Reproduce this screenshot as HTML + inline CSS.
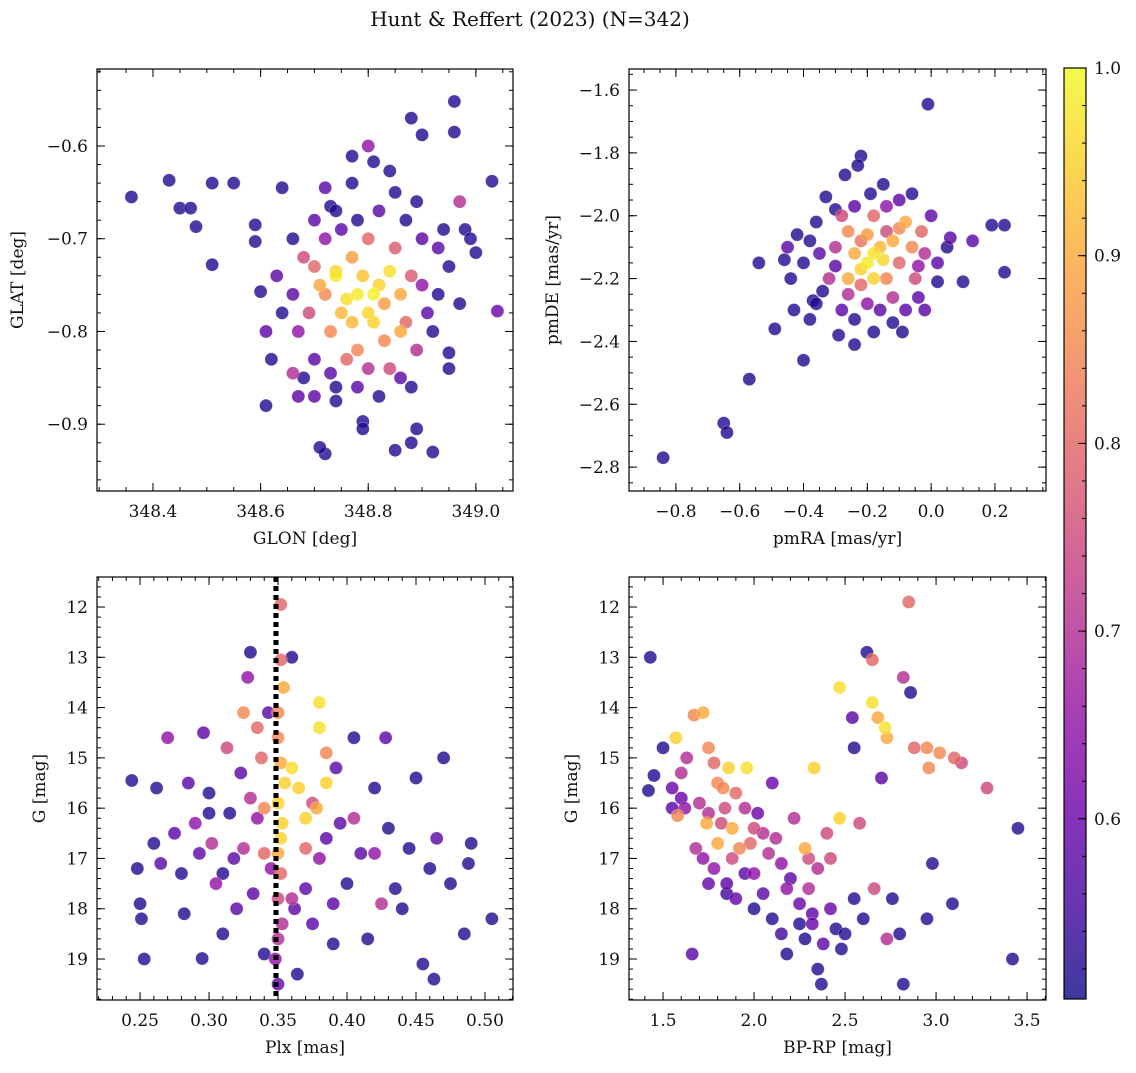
<!DOCTYPE html>
<html><head><meta charset="utf-8"><style>
body{margin:0;background:#fff;}
svg text{font-family:"DejaVu Serif","Liberation Serif",serif;fill:#111;}
</style></head><body>
<svg id="fig" width="1136" height="1068" xmlns="http://www.w3.org/2000/svg">
<defs><linearGradient id="cbg" x1="0" y1="1" x2="0" y2="0">
<stop offset="0" stop-color="#0d0887"/><stop offset="0.1" stop-color="#41049d"/><stop offset="0.2" stop-color="#6a00a8"/><stop offset="0.3" stop-color="#8f0da4"/><stop offset="0.4" stop-color="#b12a90"/><stop offset="0.5" stop-color="#cc4778"/><stop offset="0.6" stop-color="#e16462"/><stop offset="0.7" stop-color="#f2844b"/><stop offset="0.8" stop-color="#fca636"/><stop offset="0.9" stop-color="#fcce25"/><stop offset="1" stop-color="#f0f921"/></linearGradient></defs>
<text x="530" y="26" font-size="20" text-anchor="middle">Hunt &amp; Reffert (2023) (N=342)</text>
</svg>
<script>
const glonVals=[348.36,348.43,348.45,348.47,348.48,348.51,348.55,348.51,348.61,348.62,348.61,348.60,348.59,348.59,348.64,348.88,348.90,348.96,348.96,349.03,349.04,348.92,348.89,348.88,348.85,348.72,348.71,348.79,348.79,348.74,348.73,348.67,348.66,348.86,348.95,348.95,348.98,348.99,348.97,349.00,348.94,348.93,348.80,348.81,348.84,348.77,348.77,348.72,348.73,
348.78,348.76,348.80,348.82,348.79,348.74,348.84,348.81,348.75,348.77,348.86,348.72,348.70,348.73,348.83,348.87,348.88,348.80,348.85,348.69,348.68,348.76,348.84,348.89,348.90,348.91,348.66,348.67,348.70,348.72,348.75,348.78,348.82,348.87,348.90,348.93,348.92,348.88,348.82,348.78,348.74,348.70,348.68,348.64,348.63,348.66,348.70,348.74,348.85,348.89,348.95,348.97,348.78,348.80,348.86,348.74,348.81,348.77,348.83,348.71];
const glatVals=[-0.655,-0.637,-0.667,-0.667,-0.687,-0.640,-0.640,-0.728,-0.880,-0.830,-0.800,-0.757,-0.703,-0.685,-0.645,-0.570,-0.588,-0.552,-0.585,-0.638,-0.778,-0.930,-0.905,-0.920,-0.928,-0.932,-0.925,-0.897,-0.905,-0.875,-0.845,-0.870,-0.845,-0.850,-0.823,-0.840,-0.690,-0.700,-0.660,-0.715,-0.690,-0.710,-0.600,-0.617,-0.627,-0.611,-0.640,-0.645,-0.665,
-0.76,-0.765,-0.78,-0.75,-0.74,-0.735,-0.735,-0.79,-0.78,-0.72,-0.76,-0.76,-0.73,-0.80,-0.81,-0.79,-0.74,-0.70,-0.71,-0.78,-0.72,-0.83,-0.84,-0.82,-0.75,-0.78,-0.76,-0.80,-0.83,-0.70,-0.69,-0.68,-0.67,-0.68,-0.70,-0.76,-0.80,-0.86,-0.87,-0.86,-0.86,-0.87,-0.85,-0.78,-0.74,-0.70,-0.68,-0.67,-0.65,-0.66,-0.73,-0.77,-0.82,-0.84,-0.80,-0.74,-0.76,-0.79,-0.77,-0.75];
const p1=[.52,.52,.52,.52,.52,.52,.52,.52,.52,.52,.58,.52,.52,.52,.52,.52,.52,.52,.52,.52,.6,.52,.52,.52,.52,.52,.52,.52,.52,.52,.58,.58,.7,.58,.52,.52,.52,.52,.7,.52,.52,.58,.65,.52,.52,.52,.52,.58,.52,
.98,.97,.96,.95,.93,.95,.97,.95,.92,.88,.9,.85,.8,.85,.85,.8,.78,.8,.78,.75,.75,.8,.75,.7,.65,.58,.58,.65,.58,.65,.58,.52,.58,.52,.58,.52,.52,.52,.52,.58,.52,.58,.52,.52,.58,.52,.58,.52,.52,.52,.52,.52,.85,.7,.9,.98,.99,.92,.88,.9];
const pmraVals=[-0.84,-0.65,-0.64,-0.57,-0.40,-0.49,-0.01,-0.22,-0.23,-0.27,0.23,0.23,0.19,0.13,0.10,-0.54,-0.46,-0.44,-0.43,-0.38,-0.37,-0.42,-0.36,-0.33,-0.29,-0.24,-0.18,-0.09,-0.02,0.02,0.06,-0.06,-0.10,-0.15,-0.19,
-0.20,-0.18,-0.15,-0.22,-0.16,-0.24,-0.12,-0.20,-0.10,-0.26,-0.06,-0.14,-0.08,-0.18,-0.28,-0.03,-0.30,-0.32,-0.26,-0.20,-0.12,-0.05,-0.02,-0.28,-0.35,-0.38,-0.34,-0.30,-0.22,-0.10,-0.16,-0.08,0.00,0.02,-0.04,-0.24,-0.14,-0.30,-0.40,-0.45,-0.36,-0.24,-0.12,-0.04,0.05,-0.26,-0.18,-0.14,-0.22];
const pmdeVals=[-2.77,-2.66,-2.69,-2.52,-2.46,-2.36,-1.645,-1.81,-1.84,-1.87,-2.18,-2.03,-2.03,-2.08,-2.21,-2.15,-2.14,-2.20,-2.30,-2.33,-2.27,-2.06,-2.02,-1.94,-2.38,-2.41,-2.37,-2.37,-2.30,-2.21,-2.07,-1.93,-1.95,-1.90,-1.93,
-2.15,-2.12,-2.14,-2.17,-2.10,-2.12,-2.08,-2.06,-2.04,-2.05,-2.10,-2.20,-2.02,-2.00,-2.00,-2.05,-2.10,-2.20,-2.25,-2.28,-2.26,-2.20,-2.12,-2.30,-2.12,-2.08,-2.24,-2.16,-2.22,-2.15,-2.30,-2.30,-2.00,-2.15,-2.26,-1.97,-1.97,-1.98,-2.15,-2.10,-2.28,-2.33,-2.34,-2.16,-2.10,-2.20,-2.20,-2.05,-2.08];
const p2=[.52,.52,.52,.52,.52,.52,.52,.52,.52,.52,.52,.52,.52,.58,.52,.52,.52,.52,.52,.52,.52,.52,.52,.52,.52,.52,.52,.52,.58,.52,.58,.52,.58,.52,.52,
.98,.97,.96,.95,.92,.9,.9,.88,.85,.85,.85,.85,.9,.8,.75,.8,.7,.7,.7,.65,.7,.75,.7,.58,.58,.52,.52,.58,.8,.8,.58,.58,.58,.58,.58,.58,.65,.52,.52,.58,.52,.52,.52,.65,.52,.9,.95,.75,.82];
const plxVals=[0.352,0.352,0.354,0.35,0.35,0.352,0.355,0.35,0.353,0.352,0.35,0.352,0.35,0.353,0.35,0.348,0.35,0.36,0.365,0.37,0.38,0.38,0.385,0.385,0.378,0.37,
0.244,0.248,0.25,0.251,0.253,0.26,0.262,0.265,0.27,0.275,0.28,0.282,0.285,0.29,0.293,0.295,0.296,0.30,0.302,0.305,0.31,0.313,0.315,0.318,0.32,0.323,0.325,0.328,0.33,0.332,0.335,0.338,0.34,0.343,0.345,0.36,0.362,0.364,0.37,0.375,0.38,0.385,0.39,0.392,0.395,0.40,0.405,0.41,0.415,0.42,0.425,0.428,0.43,0.435,0.44,0.445,0.45,0.455,0.46,0.463,0.465,0.47,0.475,0.485,0.488,0.49,0.505,0.30,0.31,0.33,0.34,0.325,0.335,0.34,0.36,0.375,0.39,0.405,0.42];
const g3Vals=[11.95,13.05,13.6,14.1,14.6,15.1,15.5,15.9,16.3,16.6,16.9,17.3,17.8,18.3,18.6,19.0,19.5,15.2,15.6,16.2,13.9,14.4,15.5,14.9,16.0,16.8,
15.45,17.2,17.9,18.2,19.0,16.7,15.6,17.1,14.6,16.5,17.3,18.1,15.5,16.3,16.9,18.99,14.5,15.7,16.7,17.5,18.5,14.8,16.1,17.0,18.0,15.3,16.8,13.4,12.9,17.7,16.2,15.0,18.9,14.1,17.2,13.0,18.0,19.3,17.6,18.3,17.0,16.6,18.7,15.2,16.3,17.5,14.6,16.9,18.6,15.6,17.9,14.6,16.4,17.6,18.0,16.8,15.4,19.1,17.2,19.4,16.6,15.0,17.5,18.5,17.1,16.7,18.2,16.1,17.3,15.8,16.9,14.1,14.4,16.0,17.8,15.9,17.9,16.2,16.9];
const p3=[.8,.8,.9,.85,.85,.9,.95,.95,.95,.95,.9,.8,.75,.7,.7,.65,.6,.97,.95,.95,.97,.97,.95,.85,.9,.8,
.52,.52,.52,.52,.52,.52,.52,.58,.65,.58,.52,.52,.58,.65,.58,.52,.58,.52,.7,.65,.52,.75,.52,.58,.58,.58,.7,.65,.52,.58,.65,.8,.52,.58,.65,.52,.58,.52,.58,.58,.65,.58,.52,.58,.58,.52,.52,.58,.52,.52,.7,.58,.52,.52,.52,.52,.52,.52,.52,.52,.58,.52,.52,.52,.52,.52,.52,.52,.52,.7,.8,.85,.8,.85,.7,.75,.58,.7,.65];
const bprpVals=[1.43,1.42,1.45,1.50,1.55,1.57,1.58,1.60,1.63,1.67,1.66,1.72,1.74,1.75,1.78,1.80,1.83,1.86,1.88,1.90,1.96,1.80,1.68,1.72,1.78,1.85,1.88,1.92,1.95,2.00,2.05,2.10,2.12,2.15,2.18,2.20,2.22,2.25,2.28,2.30,2.32,2.35,2.37,2.38,2.40,2.42,2.45,2.48,2.50,2.33,2.28,2.47,2.47,2.54,2.55,2.58,2.60,2.62,2.65,2.65,2.68,2.72,2.73,2.70,2.76,2.73,2.80,2.82,2.85,2.82,2.86,2.88,2.95,2.96,3.02,3.10,3.14,3.28,2.98,2.95,3.09,3.42,3.45,2.66,2.55,
1.55,1.62,1.70,1.75,1.82,1.95,2.00,2.05,2.08,2.00,1.90,1.85,2.18,2.25,2.35,2.30,2.10,2.02,1.98,1.84,2.15,2.32,2.42,1.75,1.60];
const g4Vals=[13.0,15.65,15.35,14.8,16.0,14.6,16.15,15.3,15.0,14.15,18.9,14.1,16.3,14.8,15.1,15.5,15.6,15.2,16.4,15.7,15.2,16.7,16.8,17.0,17.2,17.5,17.0,16.8,17.3,18.0,17.7,18.2,16.6,17.1,18.9,17.4,16.2,18.3,18.6,17.6,18.1,19.2,19.5,18.7,16.5,17.0,18.4,18.8,18.5,15.2,16.8,16.2,13.6,14.2,14.8,16.3,18.2,12.9,13.05,13.9,14.2,14.4,14.6,15.4,17.8,18.6,18.5,19.5,11.9,13.4,13.7,14.8,14.8,15.2,14.9,15.0,15.1,15.6,17.1,18.2,17.9,19.0,16.4,17.6,17.8,
15.6,16.0,15.9,16.1,16.3,16.0,16.4,16.5,16.9,17.3,17.8,17.7,17.6,17.9,17.2,17.0,15.5,16.1,16.7,16.0,18.5,18.3,18.0,17.5,15.8];
const p4=[.52,.52,.52,.52,.58,.95,.85,.7,.7,.85,.58,.9,.9,.85,.8,.85,.85,.95,.9,.8,.97,.9,.7,.65,.65,.58,.75,.85,.58,.52,.58,.52,.7,.65,.52,.58,.7,.52,.52,.7,.58,.52,.52,.58,.75,.75,.52,.52,.52,.95,.9,.95,.97,.58,.52,.75,.52,.52,.8,.97,.9,.97,.9,.58,.52,.7,.52,.52,.8,.7,.52,.8,.85,.85,.85,.8,.75,.75,.52,.52,.52,.52,.52,.75,.52,
.6,.65,.7,.7,.75,.7,.75,.7,.7,.65,.6,.55,.65,.6,.7,.75,.6,.6,.8,.75,.55,.6,.6,.6,.6];

const svg=document.getElementById('fig');
const NS='http://www.w3.org/2000/svg';
const stops=[[13,8,135],[65,4,157],[106,0,168],[143,13,164],[177,42,144],[204,71,120],[225,100,98],[242,132,75],[252,166,54],[252,206,37],[240,249,33]];
const CMIN=0.504,CMAX=1.0;
function cmap(v){let t=(v-CMIN)/(CMAX-CMIN);t=Math.max(0,Math.min(1,t))*10;const i=Math.min(9,Math.floor(t)),f=t-i;const a=stops[i],b=stops[i+1];return 'rgb('+a.map((c,k)=>Math.round(c+(b[k]-c)*f)).join(',')+')';}
function mk(tag,attrs,parent){const e=document.createElementNS(NS,tag);for(const k in attrs)e.setAttribute(k,attrs[k]);(parent||svg).appendChild(e);return e;}
function fmt(v,d){const s=Math.abs(v).toFixed(d);return (v<-1e-9?'\u2212':'')+s;}
const FS=17;
function panel(o){
  const sx=v=>o.x0+(v-o.xmin)/(o.xmax-o.xmin)*(o.x1-o.x0);
  const sy=o.inv?(v=>o.y0+(v-o.ymin)/(o.ymax-o.ymin)*(o.y1-o.y0)):(v=>o.y1-(v-o.ymin)/(o.ymax-o.ymin)*(o.y1-o.y0));
  const g=mk('g',{});
  
  
  if(o.vline!==undefined){const l=mk('line',{x1:sx(o.vline),x2:sx(o.vline),y1:o.y0,y2:o.y1,stroke:'#000','stroke-width':5,'stroke-dasharray':'5,4'},g);
    
    }
  const idx=o.xs.map((_,i)=>i).sort((a,b)=>o.ps[a]-o.ps[b]);
  for(const i of idx){const c=mk('circle',{cx:sx(o.xs[i]),cy:sy(o.ys[i]),r:6.5,fill:cmap(o.ps[i]),'fill-opacity':0.8,stroke:'#fff','stroke-opacity':0.4,'stroke-width':0.6},g);
    
    }
  if(o.vline!==undefined){const l2=mk('line',{x1:sx(o.vline),x2:sx(o.vline),y1:o.y0,y2:o.y1,stroke:'#000','stroke-width':5,'stroke-dasharray':'5,4'},g);
    
    }
  const fr=mk('rect',{x:o.x0,y:o.y0,width:o.x1-o.x0,height:o.y1-o.y0,fill:'none',stroke:'#000','stroke-width':1.2},g);
  
  
  const tk=(x1,y1,x2,y2)=>mk('line',{x1,y1,x2,y2,stroke:'#000','stroke-width':1},g);
  for(let v=Math.ceil(o.xmin/o.xminor-1e-6)*o.xminor;v<=o.xmax;v+=o.xminor){const x=sx(v);tk(x,o.y1,x,o.y1-4);tk(x,o.y0,x,o.y0+4);}
  for(let v=Math.ceil(o.ymin/o.yminor-1e-6)*o.yminor;v<=o.ymax;v+=o.yminor){const y=sy(v);tk(o.x0,y,o.x0+4,y);tk(o.x1,y,o.x1-4,y);}
  for(const v of o.xt){const x=sx(v);tk(x,o.y1,x,o.y1-8);tk(x,o.y0,x,o.y0+8);
    const t=mk('text',{x:x,y:o.y1+26,'font-size':FS,'text-anchor':'middle'},g);t.textContent=fmt(v,o.xd);
    
    }
  for(const v of o.yt){const y=sy(v);tk(o.x0,y,o.x0+8,y);tk(o.x1,y,o.x1-8,y);
    const t=mk('text',{x:o.x0-9,y:y+6,'font-size':FS,'text-anchor':'end'},g);t.textContent=fmt(v,o.yd);
    
    }
  const xl=mk('text',{x:(o.x0+o.x1)/2,y:o.y1+53,'font-size':FS,'text-anchor':'middle'},g);xl.textContent=o.xlab;
  
  
  const yx=o.ylx,yy=(o.y0+o.y1)/2;
  const yl=mk('text',{x:yx,y:yy,'font-size':FS,'text-anchor':'middle',transform:'rotate(-90 '+yx+' '+yy+')'},g);yl.textContent=o.ylab;
  
  
}
panel({name:'glon-glat-panel',x0:97,x1:513,y0:69,y1:491,xmin:348.296,xmax:349.069,ymin:-0.972,ymax:-0.517,xs:glonVals,ys:glatVals,ps:p1,xt:[348.4,348.6,348.8,349.0],xd:1,yt:[-0.6,-0.7,-0.8,-0.9],yd:1,xminor:0.05,yminor:0.02,xlab:'GLON [deg]',ylab:'GLAT [deg]',ylx:23});
panel({name:'pm-panel',x0:629,x1:1046,y0:69,y1:491,xmin:-0.947,xmax:0.360,ymin:-2.876,ymax:-1.533,xs:pmraVals,ys:pmdeVals,ps:p2,xt:[-0.8,-0.6,-0.4,-0.2,0.0,0.2],xd:1,yt:[-1.6,-1.8,-2.0,-2.2,-2.4,-2.6,-2.8],yd:1,xminor:0.05,yminor:0.05,xlab:'pmRA [mas/yr]',ylab:'pmDE [mas/yr]',ylx:558});
panel({name:'plx-g-panel',x0:97,x1:513,y0:577,y1:1000,xmin:0.2188,xmax:0.5203,ymin:11.403,ymax:19.815,inv:true,xs:plxVals,ys:g3Vals,ps:p3,xt:[0.25,0.30,0.35,0.40,0.45,0.50],xd:2,yt:[12,13,14,15,16,17,18,19],yd:0,xminor:0.01,yminor:0.2,xlab:'Plx [mas]',ylab:'G [mag]',ylx:45,vline:0.3485});
panel({name:'cmd-panel',x0:629,x1:1046,y0:577,y1:1000,xmin:1.313,xmax:3.604,ymin:11.403,ymax:19.815,inv:true,xs:bprpVals,ys:g4Vals,ps:p4,xt:[1.5,2.0,2.5,3.0,3.5],xd:1,yt:[12,13,14,15,16,17,18,19],yd:0,xminor:0.1,yminor:0.2,xlab:'BP-RP [mag]',ylab:'G [mag]',ylx:577});
const cbTicks=[0.6,0.7,0.8,0.9,1.0];
const cb=mk('g',{});


mk('rect',{x:1064,y:68,width:22,height:931,fill:'url(#cbg)','fill-opacity':0.8},cb);
mk('rect',{x:1064,y:68,width:22,height:931,fill:'none',stroke:'#000','stroke-width':1.2},cb);
const cy=v=>999-(v-CMIN)/(CMAX-CMIN)*931;
for(let v=0.52;v<=1.0001;v+=0.02){mk('line',{x1:1086,x2:1082,y1:cy(v),y2:cy(v),stroke:'#000','stroke-width':1},cb);}
for(const v of cbTicks){mk('line',{x1:1086,x2:1078,y1:cy(v),y2:cy(v),stroke:'#000','stroke-width':1},cb);
  const t=mk('text',{x:1094,y:cy(v)+6,'font-size':FS},cb);t.textContent=v.toFixed(1);
  
  }
</script>
</body></html>
